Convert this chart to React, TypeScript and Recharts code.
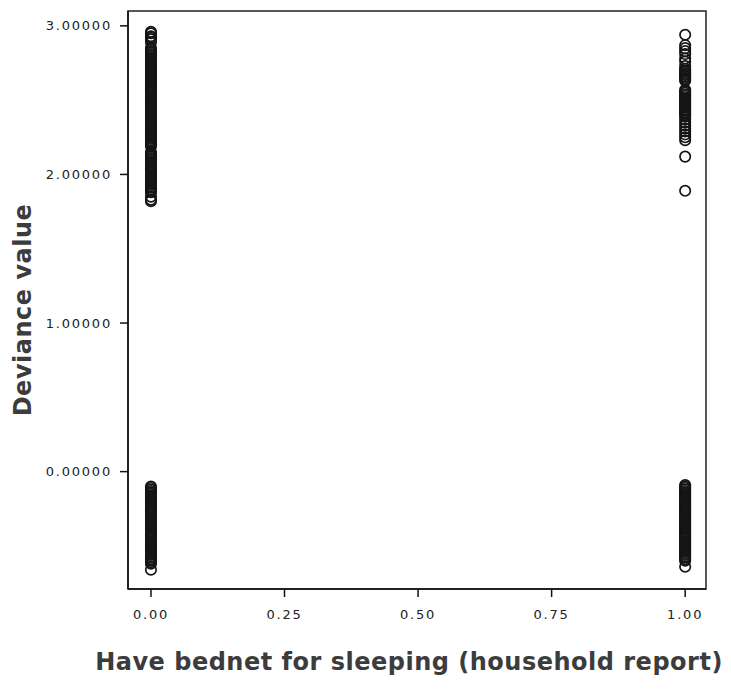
import {
  ScatterChart,
  Scatter,
  XAxis,
  YAxis,
  ReferenceArea,
} from 'recharts';

// Deviance residuals per bednet group (0 = no bednet, 1 = has bednet)
const noNetHigh = [
  2.96, 2.95, 2.93, 2.92, 2.91, 2.89, 2.85, 2.84, 2.83, 2.82, 2.81, 2.80, 2.79, 2.78,
  2.77, 2.76, 2.75, 2.74, 2.73, 2.72, 2.71, 2.70, 2.69, 2.68, 2.67, 2.66, 2.65, 2.64,
  2.63, 2.62, 2.61, 2.60, 2.59, 2.58, 2.57, 2.56, 2.55, 2.54, 2.53, 2.52, 2.51, 2.50,
  2.49, 2.48, 2.47, 2.46, 2.45, 2.44, 2.43, 2.42, 2.41, 2.40, 2.39, 2.38, 2.37, 2.36,
  2.35, 2.34, 2.33, 2.32, 2.31, 2.30, 2.29, 2.28, 2.27, 2.26, 2.25, 2.24, 2.23, 2.22,
  2.21, 2.20, 2.19, 2.15, 2.14, 2.13, 2.12, 2.11, 2.10, 2.09, 2.08, 2.07, 2.06, 2.05,
  2.04, 2.03, 2.02, 2.01, 2.00, 1.99, 1.98, 1.97, 1.96, 1.95, 1.94, 1.93, 1.92, 1.91,
  1.90, 1.89, 1.88, 1.85, 1.83, 1.82,
];
const noNetLow = [
  -0.10, -0.11, -0.12, -0.13, -0.14, -0.15, -0.16, -0.17, -0.18, -0.19, -0.20, -0.21,
  -0.22, -0.23, -0.24, -0.25, -0.26, -0.27, -0.28, -0.29, -0.30, -0.31, -0.32, -0.33,
  -0.34, -0.35, -0.36, -0.37, -0.38, -0.39, -0.40, -0.41, -0.42, -0.43, -0.44, -0.45,
  -0.46, -0.47, -0.48, -0.49, -0.50, -0.51, -0.52, -0.53, -0.54, -0.55, -0.56, -0.57,
  -0.58, -0.59, -0.60, -0.61, -0.62, -0.66,
];
const netHigh = [
  2.94, 2.87, 2.85, 2.83, 2.81, 2.78, 2.76, 2.73, 2.71, 2.70, 2.69, 2.68, 2.67, 2.66,
  2.65, 2.64, 2.63, 2.57, 2.56, 2.55, 2.54, 2.53, 2.52, 2.51, 2.50, 2.49, 2.48, 2.47,
  2.46, 2.45, 2.44, 2.43, 2.42, 2.41, 2.40, 2.39, 2.37, 2.35, 2.33, 2.31, 2.29, 2.27,
  2.25, 2.23, 2.12, 1.89,
];
const netLow = [
  -0.09, -0.10, -0.11, -0.12, -0.13, -0.14, -0.15, -0.16, -0.17, -0.18, -0.19, -0.20,
  -0.21, -0.22, -0.23, -0.24, -0.25, -0.26, -0.27, -0.28, -0.29, -0.30, -0.31, -0.32,
  -0.33, -0.34, -0.35, -0.36, -0.37, -0.38, -0.39, -0.40, -0.41, -0.42, -0.43, -0.44,
  -0.45, -0.46, -0.47, -0.48, -0.49, -0.50, -0.51, -0.52, -0.53, -0.54, -0.55, -0.56,
  -0.57, -0.58, -0.59, -0.60, -0.64,
];

const xTicks = [0, 0.25, 0.5, 0.75, 1];
const yTicks = [0, 1, 2, 3];
const xDomain: [number, number] = [-0.043, 1.039];
const yDomain: [number, number] = [-0.79, 3.1];

const xTitle = 'Have bednet for sleeping (household report)';
const yTitle = 'Deviance value';

const points = [
  ...noNetHigh.map((y) => ({ x: 0, y })),
  ...noNetLow.map((y) => ({ x: 0, y })),
  ...netHigh.map((y) => ({ x: 1, y })),
  ...netLow.map((y) => ({ x: 1, y })),
];

const tickStyle = {
  fontFamily: 'DejaVu Sans, sans-serif',
  fontSize: 13,
  fill: '#222',
  letterSpacing: 1.8,
};

const titleStyle = {
  fontFamily: 'DejaVu Sans, sans-serif',
  fontSize: 24,
  fontWeight: 'bold' as const,
  fill: '#3c3c3c',
  letterSpacing: 0.5,
};

type Box = { x: number; y: number; width: number; height: number };

function XTitle({ viewBox }: { viewBox?: Box }) {
  if (!viewBox) return null;
  const cx = viewBox.x + viewBox.width / 2 - 8;
  return (
    <text x={cx} y={viewBox.y + viewBox.height - 20} textAnchor="middle" style={titleStyle}>
      {xTitle}
    </text>
  );
}

function YTitle({ viewBox }: { viewBox?: Box }) {
  if (!viewBox) return null;
  const x = viewBox.x + 31;
  const y = viewBox.y + viewBox.height / 2 + 10;
  return (
    <text x={x} y={y} textAnchor="middle" transform={`rotate(-90, ${x}, ${y})`} style={titleStyle}>
      {yTitle}
    </text>
  );
}

// hollow marker: no fill, so stacked points build up into a dark band
function Ring(props: { cx?: number; cy?: number }) {
  const { cx, cy } = props;
  if (cx == null || cy == null) return null;
  return <circle cx={cx} cy={cy} r={5.2} fill="none" stroke="#151515" strokeWidth={1.7} />;
}

export default function App() {
  return (
    <div style={{ position: 'absolute', left: 0, top: 0, background: '#fff' }}>
      <ScatterChart
        width={731}
        height={690}
        margin={{ top: 11, right: 25, left: 0, bottom: 0 }}
      >
        <XAxis
          type="number"
          dataKey="x"
          domain={xDomain}
          ticks={xTicks}
          allowDataOverflow
          height={101}
          tickSize={8}
          tickMargin={13}
          tickFormatter={(v: number) => v.toFixed(2)}
          tick={tickStyle}
          stroke="#111"
          strokeWidth={1.5}
          label={<XTitle />}
        />
        <YAxis
          type="number"
          dataKey="y"
          domain={yDomain}
          ticks={yTicks}
          allowDataOverflow
          width={128}
          tickSize={8}
          tickMargin={8}
          tickFormatter={(v: number) => v.toFixed(5)}
          tick={tickStyle}
          stroke="#111"
          strokeWidth={1.5}
          label={<YTitle />}
        />
        {/* frame around the plot area */}
        <ReferenceArea
          x1={xDomain[0]}
          x2={xDomain[1]}
          y1={yDomain[0]}
          y2={yDomain[1]}
          fill="none"
          stroke="#222"
          strokeWidth={1.5}
          ifOverflow="visible"
        />
        <Scatter data={points} shape={<Ring />} isAnimationActive={false} />
      </ScatterChart>
    </div>
  );
}
